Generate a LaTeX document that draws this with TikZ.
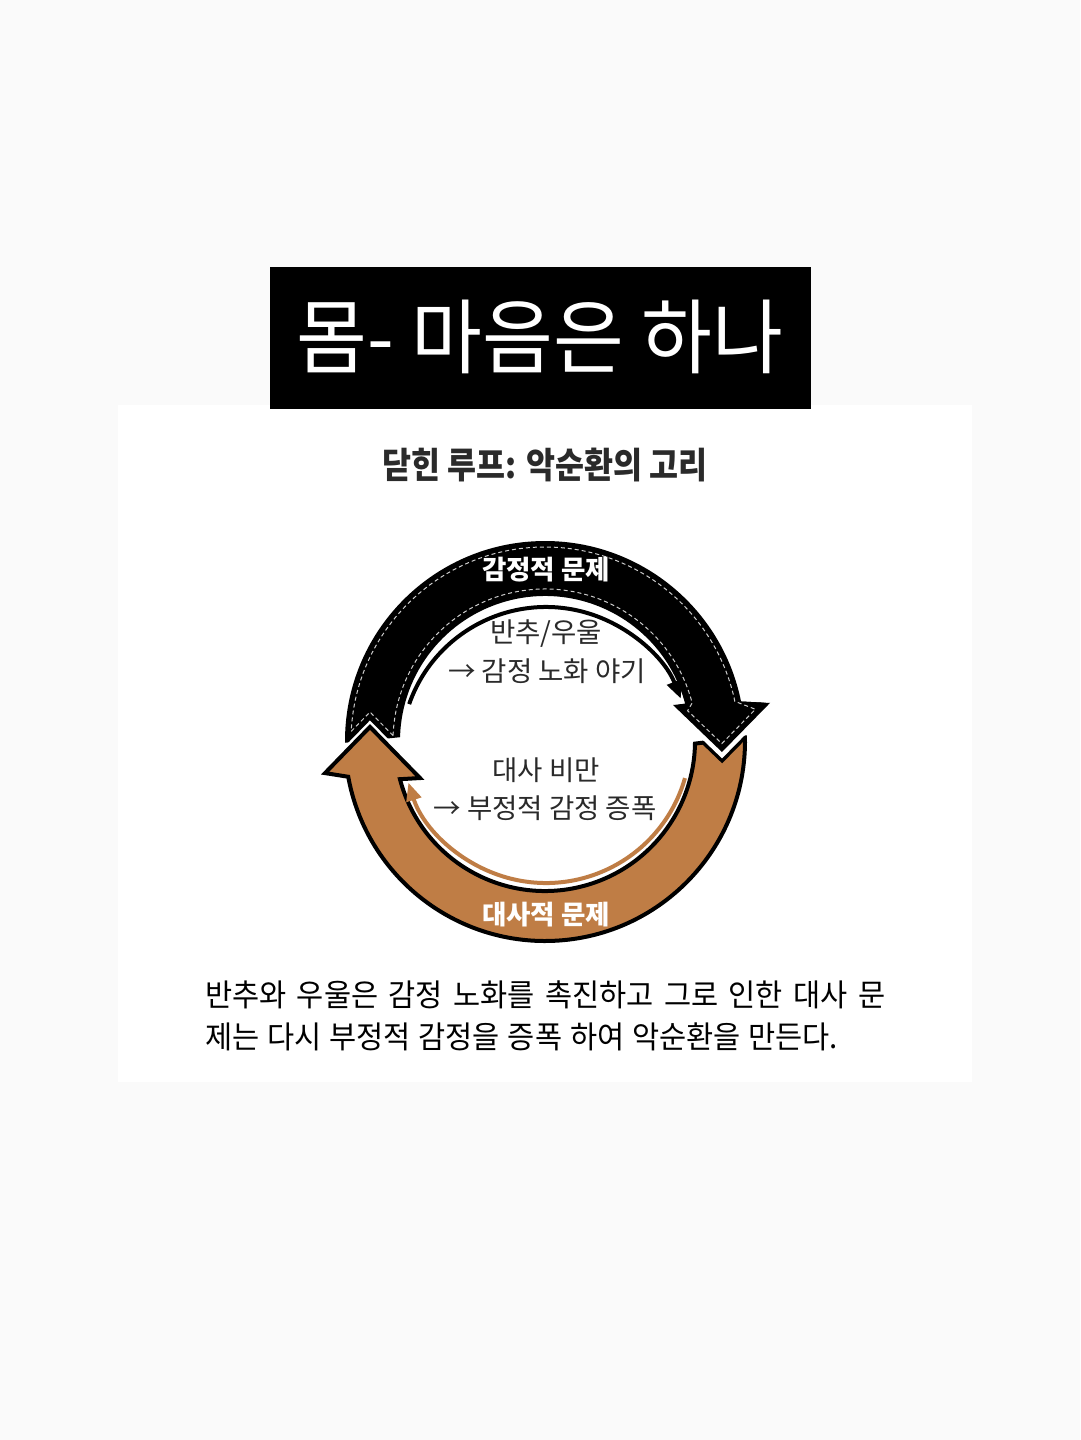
\documentclass[tikz,border=0pt]{standalone}
\usepackage{fontspec}
\setmainfont{Noto Sans CJK KR}
\usetikzlibrary{arrows.meta}
\definecolor{bggray}{HTML}{FAFAFA}
\definecolor{brownband}{HTML}{BF7D45}
\definecolor{txtdark}{HTML}{2A2A2A}
\begin{document}
\begin{tikzpicture}[x=1pt,y=1pt,
  bandtext/.style={text=white,font=\bfseries\fontsize{26.5}{26.5}\selectfont,inner sep=0pt},
  innertext/.style={text=txtdark,font=\fontsize{27.5}{27.5}\selectfont,inner sep=0pt},
  captext/.style={text=black,font=\fontsize{29.5}{29.5}\selectfont,inner sep=0pt,anchor=base west},
  stitch/.style={draw=white!80!black,line width=1pt,dash pattern=on 4pt off 3pt},
  thinblack/.style={draw=black,line width=4pt,-{Triangle[length=18pt,width=15pt]}},
  thinbrown/.style={draw=brownband,line width=4pt,-{Triangle[length=18pt,width=15pt]}}]
\useasboundingbox (0,0) rectangle (1080,-1440);
\fill[bggray] (0,0) rectangle (1080,-1440);
\fill[white] (118,-405) rectangle (972,-1082);
% title
\fill[black] (270,-267) rectangle (811,-409);
\node[text=white,font=\fontsize{77}{77}\selectfont,inner sep=0pt] (title) at (540,-337) {\scalebox{1}[1.06]{몸- 마음은 하나}};
% heading
\node[text=txtdark,font=\bfseries\fontsize{31.5}{31.5}\selectfont,inner sep=0pt] (heading) at (545,-465) {\scalebox{1}[1.14]{닫힌 루프: 악순환의 고리}};
% cycle
\begin{scope}[shift={(545,-741)}]
  % black band with arrowhead
  \fill[black] (180.5:200) arc[start angle=180.5,end angle=11.4,radius=200]
     -- (9.6:228.2) -- (-3.56:177.3) -- (15.7:133) -- (14.9:145)
     arc[start angle=14.9,end angle=178.5,radius=145] -- cycle;
  % white gap around brown arrowhead
  \draw[white,line width=9pt,miter limit=10] (188.3:222.3) -- (175.4:175.6) -- (196.5:130.4);
  % brown band with arrowhead
  \path[fill=brownband,draw=black,line width=4pt,line join=miter] (1:200)
     arc[start angle=1,end angle=-169.7,radius=200]
     -- (188.3:222.3) -- (175.4:175.6) -- (196.5:130.4) -- (194.75:150)
     arc[start angle=-165.25,end angle=-1,radius=150] -- cycle;
  % black arrowhead over brown start
  \begin{scope}
    \clip (1:200) arc[start angle=1,end angle=-169.7,radius=200]
       -- (194.75:150) arc[start angle=-165.25,end angle=-1,radius=150] -- cycle;
    \draw[black,line width=16pt] (9.6:228.2) -- (-3.56:177.3) -- (15.7:133);
  \end{scope}
  \draw[white,line width=9pt,miter limit=10] (9.6:228.2) -- (-3.56:177.3) -- (15.7:133);
  \fill[black] (9.6:228.2) -- (-3.56:177.3) -- (15.7:133) -- (14.9:145) -- (11.4:200) -- cycle;
  % stitching
  \draw[stitch] (-151.9,5.4) -- (-175,29) -- (-193.8,9.65)
     arc[start angle=177.15,end angle=11.79,radius=194]
     -- (210.41,31.74) -- (176.83,-2.56) -- (142.61,30.29) -- (14.48:152)
     arc[start angle=14.48,end angle=178,radius=152];
\end{scope}
% thin inner arrows
\begin{scope}[shift={(546,-752)}]
  \draw[thinblack] (160.7:145) arc[start angle=160.7,end angle=21.6,radius=145];
\end{scope}
\begin{scope}[shift={(546,-738.5)}]
  \draw[thinbrown] (-15.9:144.5) arc[start angle=-15.9,end angle=-162.2,radius=144.5];
\end{scope}
% texts on bands and inside
\node[bandtext] (emo) at (546,-570) {감정적 문제};
\node[bandtext] (meta) at (546,-915) {대사적 문제};
\node[innertext] (t1) at (546,-634) {반추/우울};
\node[innertext] (t2) at (547,-671) {→ 감정 노화 야기};
\node[innertext] (t3) at (546,-770) {대사 비만};
\node[innertext] (t4) at (545,-808) {→ 부정적 감정 증폭};
% caption
\node[captext] (cap1) at (205,-1006) {\scalebox{1}[1.05]{\makebox[680pt][s]{반추와 우울은 감정 노화를 촉진하고 그로 인한 대사 문}}};
\node[captext] (cap2) at (205,-1048) {\scalebox{1}[1.05]{\makebox[633pt][s]{제는 다시 부정적 감정을 증폭 하여 악순환을 만든다.}}};
\end{tikzpicture}
\end{document}
